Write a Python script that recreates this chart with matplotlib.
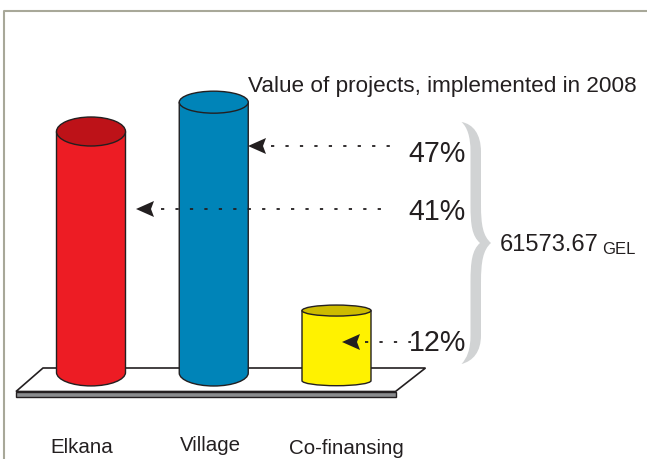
import matplotlib
matplotlib.use("Agg")
import matplotlib.pyplot as plt
from matplotlib.patches import Ellipse, Polygon, PathPatch, Rectangle
from matplotlib.path import Path

plt.rcParams['font.family'] = ['Liberation Sans', 'DejaVu Sans']

# values
categories = ["Elkana", "Village", "Co-finansing"]
shares = [41, 47, 12]
cylinder_heights = [41.9, 47.1, 12.2]
total_value = "61573.67"
total_unit = "GEL"
title = "Value of projects, implemented in 2008"

side_colors = ["#ed1c24", "#0084b8", "#fff200"]
top_colors = ["#bd1218", "#0084b8", "#cdbb00"]
ink = "#231f20"

PX_PER_UNIT = 5.75
PX_PER_CAT = 122.75


def draw_cylinder(ax, x, height, base, top_half, bottom_half, side, top):
    half_w = 34.5 / PX_PER_CAT
    top_y = base + height
    k = 0.5523
    b = bottom_half / PX_PER_UNIT
    verts = [(x - half_w, top_y), (x - half_w, base),
             (x - half_w, base - k * b), (x - k * half_w, base - b), (x, base - b),
             (x + k * half_w, base - b), (x + half_w, base - k * b), (x + half_w, base),
             (x + half_w, top_y), (x - half_w, top_y)]
    codes = [Path.MOVETO, Path.LINETO, Path.CURVE4, Path.CURVE4, Path.CURVE4,
             Path.CURVE4, Path.CURVE4, Path.CURVE4, Path.LINETO, Path.CLOSEPOLY]
    ax.add_patch(PathPatch(Path(verts, codes), facecolor=side, edgecolor=ink, lw=1.0, zorder=3))
    ax.add_patch(Ellipse((x, top_y), 2 * half_w, 2 * top_half / PX_PER_UNIT,
                         facecolor=top, edgecolor=ink, lw=1.0, zorder=4))


def draw_arrow(ax, tip_x, start_x, end_x, y):
    ax.add_patch(Polygon([(tip_x, y), (tip_x + 18, y - 8), (tip_x + 15, y), (tip_x + 18, y + 8)],
                         closed=True, facecolor=ink, edgecolor="none", zorder=6))
    ax.plot([start_x, end_x], [y, y], color=ink, lw=1.3, linestyle=(0, (1.8, 6.2)), zorder=6)


def draw_brace(ax):
    verts = [(461.5, 122),
             (473, 124), (481, 134), (481, 152),
             (481, 205),
             (481, 225), (483, 236), (491, 243),
             (483, 250), (481, 262), (481, 282),
             (481, 335),
             (481, 352), (473, 361), (461.5, 364),
             (467, 358), (470.5, 350), (470.5, 335),
             (470.5, 282),
             (470.5, 262), (472, 250), (480, 243),
             (472, 236), (470.5, 225), (470.5, 205),
             (470.5, 152),
             (470.5, 136), (467, 127), (461.5, 122)]
    codes = [Path.MOVETO]
    codes += [Path.CURVE4] * 3 + [Path.LINETO] + [Path.CURVE4] * 6 + [Path.LINETO] + [Path.CURVE4] * 3
    codes += [Path.CURVE4] * 3 + [Path.LINETO] + [Path.CURVE4] * 6 + [Path.LINETO] + [Path.CURVE4] * 3
    ax.add_patch(PathPatch(Path(verts, codes), facecolor="#d1d3d4", edgecolor="none", zorder=2))


fig = plt.figure(figsize=(6.47, 4.59), dpi=100)

# overlay in picture pixels for frame, arrows and text
ax = fig.add_axes([0, 0, 1, 1], zorder=2)
ax.set_xlim(0, 647)
ax.set_ylim(459, 0)
ax.axis("off")
ax.patch.set_alpha(0)

# chart axes: x in categories, y in percent
chart = fig.add_axes([0, 0, 1, 1], zorder=1)
chart.set_xlim(-91 / PX_PER_CAT, (647 - 91) / PX_PER_CAT)
chart.set_ylim((373 - 459) / PX_PER_UNIT, 373 / PX_PER_UNIT)
chart.axis("off")

# frame
chart_frame = [(4, 459), (4, 10.5), (647, 10.5)]
ax.plot(*zip(*chart_frame), color="#a8a899", lw=1.5, zorder=1)

# platform
chart.add_patch(Polygon([((px - 91) / PX_PER_CAT, (373 - py) / PX_PER_UNIT) for px, py in
                         [(43, 368), (425.5, 368), (395.5, 391.5), (16, 391.5)]],
                        closed=True, facecolor="white", edgecolor=ink, lw=1.2, zorder=1))
chart.add_patch(Rectangle(((16 - 91) / PX_PER_CAT, (373 - 396.5) / PX_PER_UNIT),
                          379.5 / PX_PER_CAT, 5 / PX_PER_UNIT,
                          facecolor="#8a8c8e", edgecolor=ink, lw=1.0, zorder=2))

# cylinders
bases = [0.1, 0.0, -1.34]
top_halves = [14.5, 11, 5.5]
bottom_halves = [13.5, 13, 5]
for i in range(len(categories)):
    draw_cylinder(chart, i, cylinder_heights[i], bases[i], top_halves[i], bottom_halves[i],
                  side_colors[i], top_colors[i])

# arrows and share labels
draw_arrow(ax, 248, 271, 391, 146)
draw_arrow(ax, 136, 160.5, 388, 209)
draw_arrow(ax, 342, 364.5, 411, 342)
draw_brace(ax)

ax.text(248, 92, title, fontsize=16.2, color=ink, ha="left", va="baseline")
ax.text(466, 161.5, f"{shares[1]}%", fontsize=20.6, color=ink, ha="right", va="baseline")
ax.text(466, 219.5, f"{shares[0]}%", fontsize=20.6, color=ink, ha="right", va="baseline")
ax.text(466, 351, f"{shares[2]}%", fontsize=20.6, color=ink, ha="right", va="baseline")
ax.text(500, 251, total_value, fontsize=17, color=ink, ha="left", va="baseline")
ax.text(602.5, 254.5, total_unit, fontsize=12, color=ink, ha="left", va="baseline")

ax.text(50, 453, categories[0], fontsize=14.8, color=ink, ha="left", va="baseline")
ax.text(180, 451, categories[1], fontsize=14.8, color=ink, ha="left", va="baseline")
ax.text(288.5, 454, categories[2], fontsize=14.8, color=ink, ha="left", va="baseline")

fig.savefig("out.png", dpi=100)
